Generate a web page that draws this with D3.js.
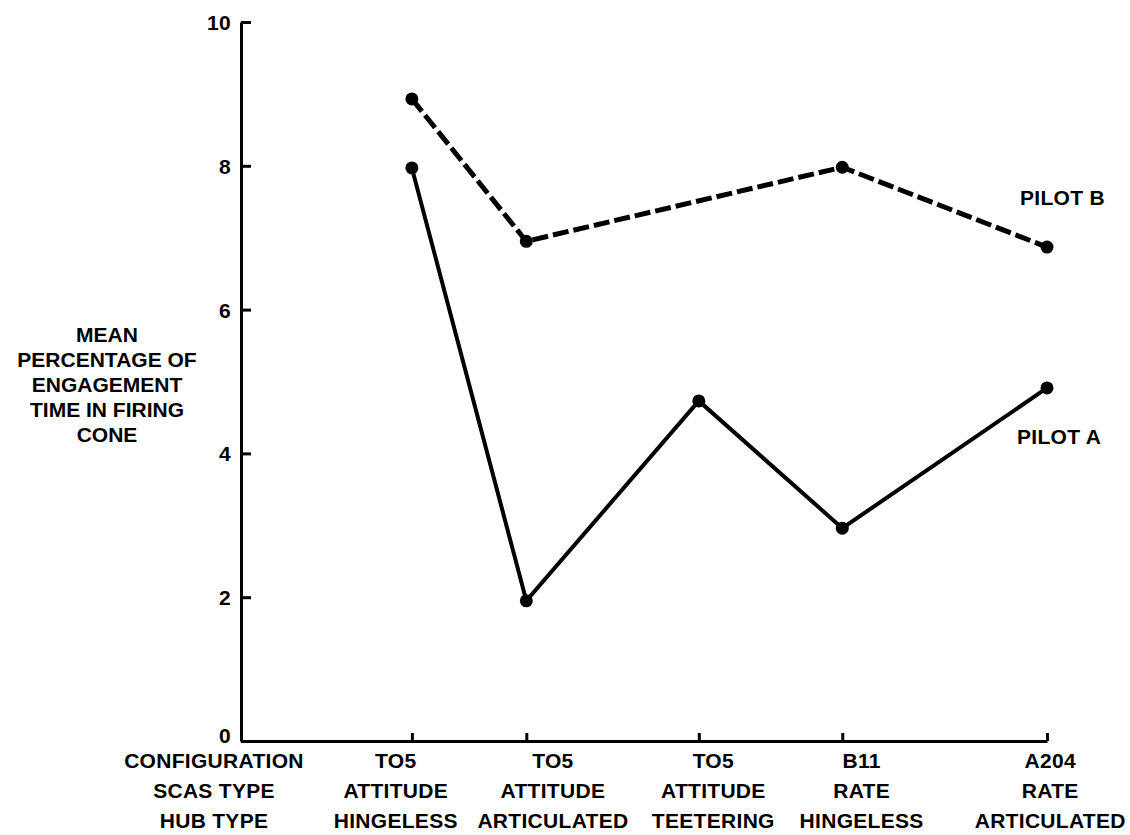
<!DOCTYPE html>
<html lang="en">
<head>
    <meta charset="UTF-8">
    <title>Mean percentage of engagement time in firing cone</title>
    <script src="https://d3js.org/d3.v7.min.js"></script>
    <style>
        body { margin: 0; background: #fff; }
        text {
            font-family: "Liberation Sans", Arial, sans-serif;
            font-weight: bold;
            font-size: 21px;
            letter-spacing: 0.3px;
            fill: #000;
        }
        .axis path, .axis line { stroke: #000; stroke-width: 3px; }
    </style>
</head>
<body>
<svg width="1130" height="835"></svg>
<script>
    // configurations along the bottom (position in axis units, label position)
    var configs  = ["TO5", "TO5", "TO5", "B11", "A204"];
    var scasType = ["ATTITUDE", "ATTITUDE", "ATTITUDE", "RATE", "RATE"];
    var hubType  = ["HINGELESS", "ARTICULATED", "TEETERING", "HINGELESS", "ARTICULATED"];
    var configPos = [1.06, 1.77, 2.84, 3.73, 5.0];
    var labelPos  = [0.96, 1.935, 2.93, 3.85, 5.02];

    var pilotA = [7.97, 1.95, 4.73, 2.96, 4.91];
    var pilotB = [8.93, 6.95, null, 7.98, 6.87];

    var yTicks = [0, 2, 4, 6, 8, 10];
    var yTitle = ["MEAN", "PERCENTAGE OF", "ENGAGEMENT", "TIME IN FIRING", "CONE"];
    var rowTitles = ["CONFIGURATION", "SCAS TYPE", "HUB TYPE"];

    var svg = d3.select("svg");

    var x = d3.scaleLinear().domain([0, 5]).range([241, 1047]);
    var y = d3.scaleLinear().domain([0, 10]).range([741, 22]);

    // y axis, ticks pointing inward
    svg.append("g")
        .attr("class", "axis")
        .attr("transform", "translate(" + x(0) + ",0)")
        .call(d3.axisLeft(y).tickValues(yTicks).tickSizeInner(-10).tickSizeOuter(0).tickPadding(10))
        .call(function (g) {
            g.attr("font-family", null).attr("font-size", null);
            g.selectAll("text").attr("dy", function (d) { return d === 0 ? "0.05em" : "0.36em"; });
        });

    // x axis
    svg.append("g")
        .attr("class", "axis")
        .attr("transform", "translate(0," + y(0) + ")")
        .call(d3.axisBottom(x).tickValues(configPos).tickSizeInner(-8).tickSizeOuter(0).tickFormat(""));

    // category labels
    var rows = [configs, scasType, hubType];
    rows.forEach(function (row, r) {
        svg.append("g").selectAll("text")
            .data(row)
            .enter().append("text")
            .attr("x", function (d, i) { return x(labelPos[i]); })
            .attr("y", 768 + r * 30)
            .attr("text-anchor", "middle")
            .text(function (d) { return d; });
    });

    svg.append("g").selectAll("text")
        .data(rowTitles)
        .enter().append("text")
        .attr("x", 214)
        .attr("y", function (d, i) { return 768 + i * 30; })
        .attr("text-anchor", "middle")
        .text(function (d) { return d; });

    svg.append("g").selectAll("text")
        .data(yTitle)
        .enter().append("text")
        .attr("x", 107)
        .attr("y", function (d, i) { return 342 + i * 25; })
        .attr("text-anchor", "middle")
        .style("letter-spacing", "0px")
        .text(function (d) { return d; });

    function toPoints(vals) {
        return vals.map(function (v, i) { return {x: configPos[i], v: v}; })
            .filter(function (d) { return d.v !== null; });
    }

    var line = d3.line()
        .x(function (d) { return x(d.x); })
        .y(function (d) { return y(d.v); });

    var series = [
        {name: "PILOT A", pts: toPoints(pilotA), dash: null, width: 4, lx: 1017, ly: 444},
        {name: "PILOT B", pts: toPoints(pilotB), dash: "16,5", width: 5, lx: 1020, ly: 205}
    ];

    series.forEach(function (s) {
        svg.append("path")
            .datum(s.pts)
            .attr("fill", "none")
            .attr("stroke", "#000")
            .attr("stroke-width", s.width)
            .attr("stroke-dasharray", s.dash)
            .attr("d", line);

        svg.append("g").selectAll("circle")
            .data(s.pts)
            .enter().append("circle")
            .attr("cx", function (d) { return x(d.x); })
            .attr("cy", function (d) { return y(d.v); })
            .attr("r", 6.5)
            .attr("fill", "#000");

        svg.append("text")
            .attr("x", s.lx)
            .attr("y", s.ly)
            .text(s.name);
    });
</script>
</body>
</html>
